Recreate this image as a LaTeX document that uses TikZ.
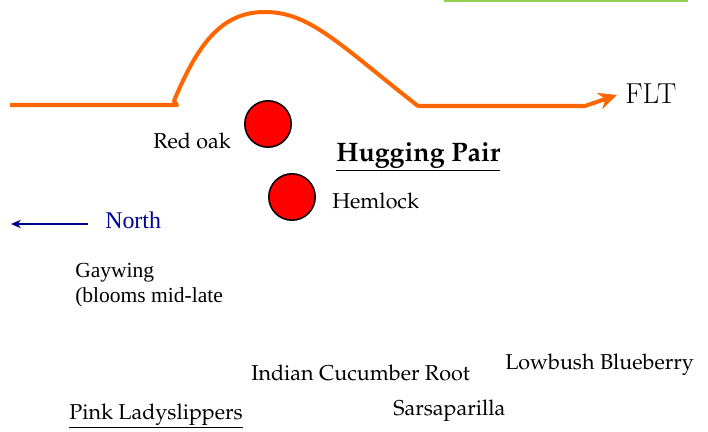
\documentclass[tikz,border=0pt]{standalone}
\usepackage[T1,TU]{fontenc}
\usepackage{fontspec}
\usepackage{tikz}
\usetikzlibrary{arrows.meta,positioning}
\newfontfamily\timesfont{Liberation Serif}
\newcommand{\palfont}{\fontencoding{T1}\fontfamily{ppl}\selectfont}
\definecolor{trailOrange}{RGB}{255,102,0}
\definecolor{edgeGreen}{RGB}{146,208,80}
\definecolor{northBlue}{RGB}{0,0,153}
\definecolor{treeRed}{RGB}{255,0,0}
\tikzset{
  trail/.style={draw=trailOrange, line width=2.85pt, line join=round},
  treedot/.style={circle, draw=black, line width=1.1pt, fill=treeRed,
    minimum size=33pt, inner sep=0pt},
  plantlabel/.style={anchor=west, inner sep=0pt, font=\palfont\fontsize{15.3}{18}\selectfont},
  noteLabel/.style={anchor=west, inner sep=0pt, align=left,
    font=\timesfont\fontsize{15.3}{17.5}\selectfont},
  northArrow/.style={-{Stealth[length=7pt,width=6pt]}, line width=1.4pt, color=northBlue}
}

\begin{document}
\begin{tikzpicture}[x=0.025cm, y=-0.025cm]
  \useasboundingbox (0,0) rectangle (708,432);
  % green edge at top
  \draw[edgeGreen, line width=1.6pt] (444,0.6) -- (688,0.6);
  % the trail
  \coordinate (tstart) at (10,105);
  \coordinate (tend) at (617,95);
  \draw[trail, -{Stealth[length=13pt,width=12pt]}]
    (tstart) -- (177,105) -- (174,101)
    .. controls (200,38) and (225,12) .. (265,12)
    .. controls (310,12) and (340,45) .. (418,106)
    -- (585,106) -- (tend);
  \node[anchor=west, inner sep=0pt, font=\fontsize{20.5}{24}\selectfont] (flt) at (625,94) {FLT};
  % the two trees
  \node[treedot] (oak) at (268,124) {};
  \node[treedot] (hemlock) at (292,197) {};
  \node[plantlabel] (oaklbl) at (153,141) {Red oak};
  \node[plantlabel] (hemlbl) at (332,201) {Hemlock};
  \node[anchor=west, inner sep=0pt, font=\palfont\bfseries\fontsize{19}{22}\selectfont]
    (pair) at (336,157) {\underline{Hugging Pair}};
  % compass
  \node[noteLabel, text=northBlue, font=\timesfont\fontsize{17}{20}\selectfont] (north) at (105,220) {North};
  \coordinate (northtip) at (11,224);
  \draw[northArrow] (88,224) -- (northtip);
  % plants
  \node[noteLabel] (gaywing) at (75,285) {Gaywing\\(blooms mid-late};
  \node[plantlabel] (cucumber) at (251,373) {Indian Cucumber Root};
  \node[plantlabel] (blueberry) at (505,365) {Lowbush Blueberry};
  \node[plantlabel] (sarsa) at (393,411) {Sarsaparilla};
  \node[plantlabel] (lady) at (69,416) {\underline{Pink Ladyslippers}};
\end{tikzpicture}
\end{document}
